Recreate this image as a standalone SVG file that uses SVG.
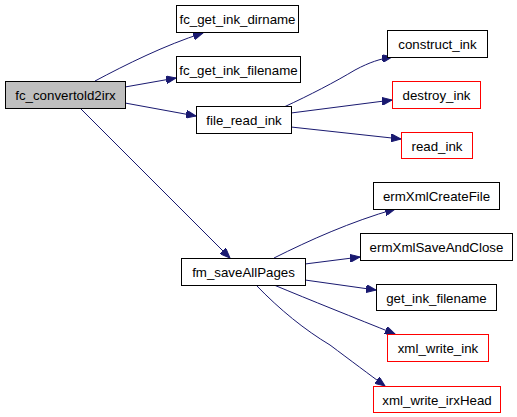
<svg xmlns="http://www.w3.org/2000/svg" width="517" height="417" viewBox="0 0 517 417">
<defs>
<style>
.n rect{fill:#ffffff;stroke:#000000;stroke-width:1}
.n.r rect{stroke:#ff0000}
.n.g rect{fill:#bfbfbf}
.n text{font-family:"Liberation Sans",Arial,sans-serif;font-size:13.3px;fill:#000000;text-anchor:middle}
.e path{fill:none;stroke:#191970;stroke-width:1;marker-end:url(#ah)}
</style>
<marker id="ah" markerUnits="userSpaceOnUse" markerWidth="11" markerHeight="8" refX="10" refY="4" orient="auto" viewBox="0 0 11 8">
<path d="M0,0 L10,4 L0,8 z" fill="#191970" stroke="#191970"/>
</marker>
</defs>
<rect width="517" height="417" fill="#ffffff"/>
<g id="edges" class="e">
<path d="M95,81 C125,65 165,45 203,33"/>
<path d="M125,87 L176,78"/>
<path d="M125,103 L196,116"/>
<path d="M80,108 L230,258"/>
<path d="M284,107 C310,95 335,82 355,70 C370,62 380,59 392,57"/>
<path d="M291,113 L392,100"/>
<path d="M291,127 L401,139"/>
<path d="M274,258 C310,240 350,222 395,209"/>
<path d="M305,264 L360,257"/>
<path d="M305,280 L376,290"/>
<path d="M274,285 C310,300 355,318 395,334"/>
<path d="M256,285 C280,310 305,330 330,345 C350,360 370,375 385,386"/>
</g>
<g id="fc_convertold2irx" class="n g"><rect x="5.5" y="81.5" width="120" height="27"/><text x="65.5" y="100">fc_convertold2irx</text></g>
<g id="fc_get_ink_dirname" class="n"><rect x="176.5" y="5.5" width="122" height="27"/><text x="237.5" y="24">fc_get_ink_dirname</text></g>
<g id="fc_get_ink_filename" class="n"><rect x="176.5" y="56.5" width="124" height="26"/><text x="238.5" y="74.5">fc_get_ink_filename</text></g>
<g id="file_read_ink" class="n"><rect x="196.5" y="106.5" width="95" height="27"/><text x="244" y="125">file_read_ink</text></g>
<g id="construct_ink" class="n"><rect x="387.5" y="30.5" width="100" height="27"/><text x="437.5" y="49">construct_ink</text></g>
<g id="destroy_ink" class="n r"><rect x="392.5" y="81.5" width="88" height="27"/><text x="436.5" y="100">destroy_ink</text></g>
<g id="read_ink" class="n r"><rect x="401.5" y="132.5" width="71" height="26"/><text x="437" y="151">read_ink</text></g>
<g id="fm_saveAllPages" class="n"><rect x="181.5" y="258.5" width="124" height="27"/><text x="243.5" y="277">fm_saveAllPages</text></g>
<g id="ermXmlCreateFile" class="n"><rect x="373.5" y="182.5" width="126" height="27"/><text x="436.5" y="201">ermXmlCreateFile</text></g>
<g id="ermXmlSaveAndClose" class="n"><rect x="360.5" y="233.5" width="152" height="27"/><text x="436.5" y="252">ermXmlSaveAndClose</text></g>
<g id="get_ink_filename" class="n"><rect x="376.5" y="284.5" width="120" height="26"/><text x="436.5" y="302.5">get_ink_filename</text></g>
<g id="xml_write_ink" class="n r"><rect x="387.5" y="334.5" width="101" height="27"/><text x="438" y="353">xml_write_ink</text></g>
<g id="xml_write_irxHead" class="n r"><rect x="373.5" y="386.5" width="127" height="26"/><text x="437" y="404.5">xml_write_irxHead</text></g>
</svg>
